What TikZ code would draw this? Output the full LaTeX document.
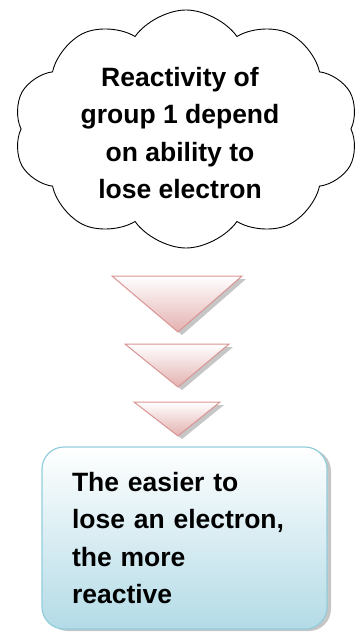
\documentclass[tikz,border=0pt]{standalone}
\usepackage{fontspec}
\setmainfont{Liberation Sans}
\usepackage{tikz}
\usetikzlibrary{shapes.symbols, positioning, calc}
\definecolor{pinkline}{HTML}{D99594}
\definecolor{pinkfill}{HTML}{E3B1B0}
\definecolor{blueline}{HTML}{92CDDC}
\definecolor{bluefill}{HTML}{B3DBE6}

\begin{document}
\begin{tikzpicture}[
  x=1pt, y=-1pt,
  bigtext/.style={font=\fontsize{26.5}{37.5}\selectfont\bfseries},
  thought/.style={
    cloud, cloud puffs=10, cloud puff arc=110, aspect=1.5, draw=black,
    line width=0.9pt, minimum width=345pt, minimum height=238pt,
    align=center, bigtext,
  },
  resultbox/.style={
    rectangle, rounded corners=22pt, draw=blueline, line width=1.2pt,
    top color=white, bottom color=bluefill, minimum width=285pt,
    minimum height=182pt, text width=225pt, inner xsep=30pt,
    align=left, bigtext,
  },
  arrowtri/.style={draw=pinkline, line width=1pt, top color=white,
    bottom color=pinkfill},
  shade/.style={fill=gray!45},
]
  \useasboundingbox (0,0) rectangle (360,634);

  \node[thought] (idea) at (186,129) {};
  \node[bigtext, align=center] (ideatext) at (180,133)
    {Reactivity of\\group 1 depend\\on ability to\\lose electron};

  % Downward triangles
  \foreach \ty/\hw/\ay [count=\i] in {276/65/332, 344/52/387, 402/43/436} {
    \coordinate (t\i l) at (177-\hw,\ty);
    \coordinate (t\i r) at (177+\hw,\ty);
    \coordinate (t\i a) at (178,\ay);
    \fill[shade] ($(t\i l)+(4,3)$) -- ($(t\i r)+(4,3)$) -- ($(t\i a)+(4,3)$) -- cycle;
    \path[arrowtri] (t\i l) -- (t\i r) -- (t\i a) -- cycle;
  }

  % Result box
  \fill[shade, rounded corners=22pt] (46,449) rectangle (331,631);
  \node[resultbox] (result) at (184.5,538)
    {The easier to\\lose an electron,\\the more\\reactive};
\end{tikzpicture}
\end{document}
